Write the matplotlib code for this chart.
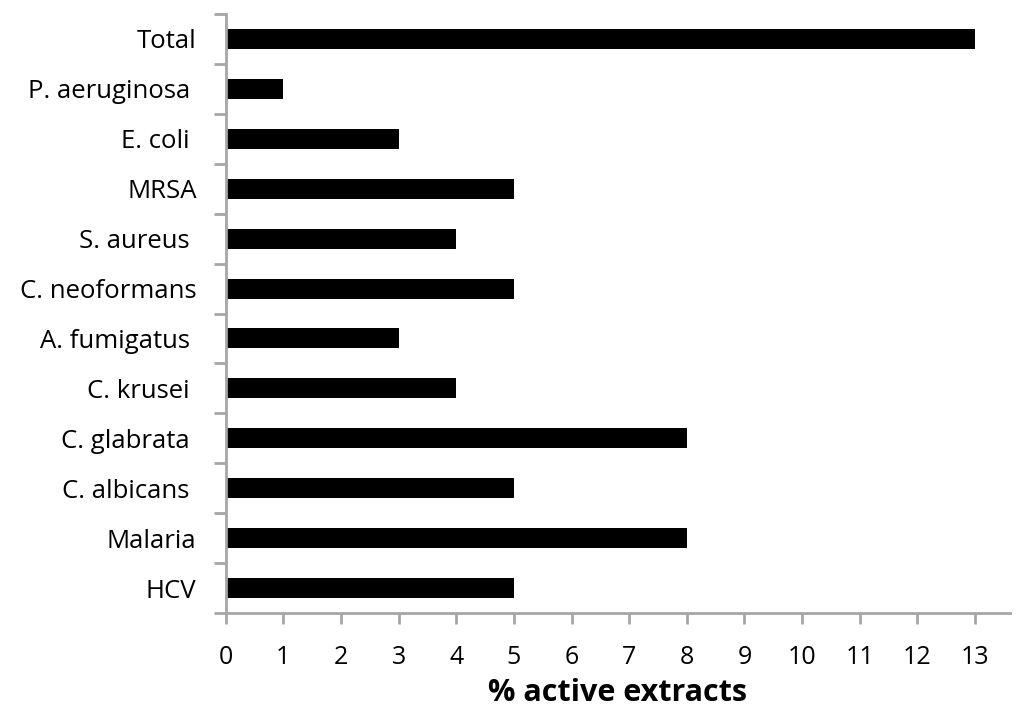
import numpy as np
import matplotlib
matplotlib.use("Agg")
import matplotlib.pyplot as plt

plt.rcParams['font.family'] = ['Open Sans', 'DejaVu Sans']

labels = ["HCV", "Malaria", "C. albicans ", "C. glabrata ", "C. krusei ", "A. fumigatus ",
          "C. neoformans", "S. aureus ", "MRSA", "E. coli ", "P. aeruginosa ", "Total"]
values = [5, 8, 5, 8, 4, 3, 5, 4, 5, 3, 1, 13]
xticks = list(range(0, 14))

fig = plt.figure(figsize=(10.24, 7.18), dpi=100)
ax = fig.add_axes([0.2204, 0.1462, 0.986 - 0.2204, 0.9805 - 0.1462])

y = np.arange(len(labels))
ax.barh(y, values, height=0.4, color='black')

ax.set_xlim(0, 13.6)
ax.set_ylim(-0.5, len(labels) - 0.5)
ax.set_xticks(xticks)
ax.set_xticklabels([str(t) for t in xticks], fontsize=18)
ax.set_yticks(y)
ax.set_yticklabels(labels, fontsize=18.5)
ax.set_yticks(np.arange(-0.5, len(labels)), minor=True)

gray = '#a6a6a6'
for s in ['top', 'right']:
    ax.spines[s].set_visible(False)
for s in ['left', 'bottom']:
    ax.spines[s].set_color(gray)
    ax.spines[s].set_linewidth(2)

ax.tick_params(axis='y', which='major', length=0, pad=21)
ax.tick_params(axis='y', which='minor', length=9, width=2, color=gray)
ax.tick_params(axis='x', which='major', length=8, width=2, color=gray, pad=15)

ax.set_xlabel('% active extracts', fontsize=22, fontweight='bold', labelpad=6)

fig.savefig('out.png', dpi=100)
